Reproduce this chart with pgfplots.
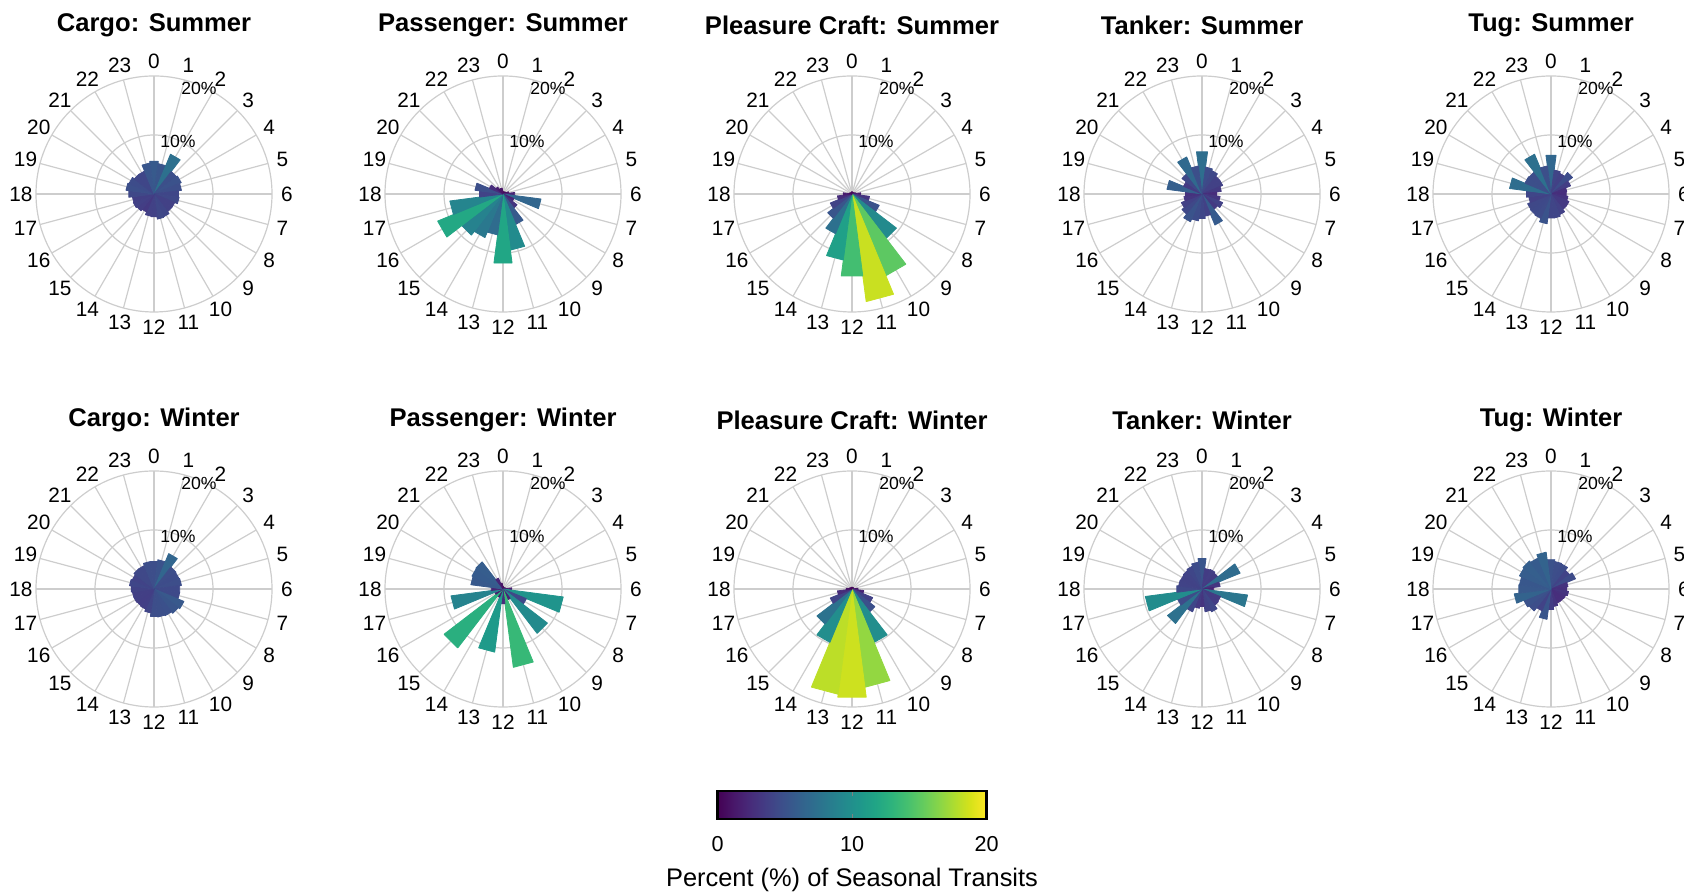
\documentclass[border=0pt]{standalone}
\usepackage{pgfplots}
\usepackage{pgfplotstable}
\pgfplotsset{compat=1.18}
\usepackage{fontspec}
\setmainfont{Liberation Sans}
\definecolor{gridc}{RGB}{205,205,205}

% Percent of seasonal transits by hour of day (0..23)
\pgfplotstableread{
h CargoS PassS PleasS TankS TugS CargoW PassW PleasW TankW TugW
0  5.6  0.5  0.4  7.2  6.6  4.7  0.5  0.3  5.2  5.0
1  5.2  0.3  0.3  4.6  4.1  5.0  0.3  0.3  3.5  4.7
2  7.3  0.3  0.3  4.3  3.8  6.5  0.3  0.3  3.6  4.6
3  4.8  0.5  0.3  3.8  4.6  4.7  0.3  0.3  3.4  4.0
4  5.0  0.5  0.4  3.8  3.6  4.6  0.3  0.3  7.0  4.5
5  4.7  1.0  0.6  3.3  2.7  4.7  0.5  0.3  3.1  2.9
6  4.2  2.0  1.5  2.5  2.6  4.4  1.5  1.0  2.0  2.7
7  4.3  6.5  3.0  3.1  2.9  4.4  10.3 2.0  7.8  3.0
8  3.8  2.0  5.0  3.8  3.3  5.5  4.3  3.8  3.4  2.7
9  3.8  3.0  9.5  3.3  3.3  5.2  9.5  4.9  3.5  2.6
10 4.2  5.6  15.0 5.7  3.8  4.9  2.0  9.8  4.2  2.6
11 4.3  9.6  18.4 3.8  4.1  4.8  13.4 16.8 3.9  3.0
12 3.9  11.8 14.0 4.2  4.1  4.7  2.5  18.5 3.0  3.5
13 3.8  7.0  11.3 4.6  5.1  4.1  10.8 18.0 3.3  5.2
14 3.3  8.0  7.3  5.1  4.5  3.7  1.5  9.8  4.2  4.0
15 3.6  8.8  5.2  4.3  4.4  3.6  12.6 7.5  7.4  4.7
16 3.8  12.0 4.0  3.8  4.3  3.7  1.5  4.0  4.5  5.0
17 3.7  9.1  2.5  3.1  3.8  3.7  8.9  2.5  9.7  6.3
18 4.3  4.0  1.5  2.8  4.2  3.9  2.0  1.0  4.3  5.5
19 4.8  4.8  0.5  6.0  7.1  4.2  5.5  0.5  4.0  5.4
20 4.6  2.5  0.3  3.4  4.8  4.0  5.7  0.3  3.9  5.8
21 4.2  1.5  0.3  4.3  4.7  4.3  5.8  0.3  4.0  6.0
22 4.2  1.0  0.3  6.8  7.3  4.3  2.0  0.3  4.2  5.7
23 5.3  1.0  0.3  4.8  4.8  4.7  1.0  0.3  4.6  6.3
}\rosedata

% one wedge (15 degrees wide, centred on the hour, clockwise from the top) per row
\newcommand\rosewedges[1]{%
  \gdef\rosecoords{}%
  \foreach \hr in {0,...,23}{%
    \pgfplotstablegetelem{\hr}{#1}\of\rosedata
    \pgfmathsetmacro\xa{\pgfplotsretval*cos(97.5-15*\hr)}%
    \pgfmathsetmacro\ya{\pgfplotsretval*sin(97.5-15*\hr)}%
    \pgfmathsetmacro\xb{\pgfplotsretval*cos(82.5-15*\hr)}%
    \pgfmathsetmacro\yb{\pgfplotsretval*sin(82.5-15*\hr)}%
    \xdef\rosecoords{\rosecoords (0,0) [\pgfplotsretval] (\xa,\ya) [\pgfplotsretval] (\xb,\yb) [\pgfplotsretval]}%
  }%
  \edef\rosetemp{\noexpand\addplot[patch, patch type=triangle, shader=flat, point meta=explicit] coordinates {\rosecoords};}%
  \rosetemp
}

\newcommand\rosegrid[2]{%
  \begin{scope}[shift={(#1pt,#2pt)}]
    \draw[gridc, line width=0.6pt] (0,0) circle[radius=29.5pt];
    \draw[gridc, line width=0.6pt] (0,0) circle[radius=59pt];
    \foreach \k in {0,...,23}{\draw[gridc, line width=0.6pt] (0,0) -- ({90-15*\k}:59pt);}
  \end{scope}}

\newcommand\roselabels[3]{%
  \begin{scope}[shift={(#1pt,#2pt)}]
    \foreach \k in {0,...,23}{\node[font=\fontsize{10.4}{12}\selectfont, inner sep=0pt] at ({90-15*\k}:66.5pt) {\k};}
    \node[font=\fontsize{8.8}{10}\selectfont, inner sep=0pt] at (12pt,26.3pt) {10\%};
    \node[font=\fontsize{8.8}{10}\selectfont, inner sep=0pt] at (22.5pt,53pt) {20\%};
    \node[font=\bfseries\fontsize{12.8}{14}\selectfont, inner sep=0pt] at (0pt,84.5pt) {#3};
  \end{scope}}

\pgfplotsset{rosax/.style={scale only axis, width=118pt, height=118pt,
  xmin=-20, xmax=20, ymin=-20, ymax=20, hide axis, clip=false,
  colormap/viridis, point meta min=0, point meta max=20, anchor=center}}

\begin{document}
\begin{tikzpicture}
\useasboundingbox (0pt,0pt) rectangle (842pt,446pt);
\rosegrid{77}{349}\rosegrid{251.5}{349}\rosegrid{426}{349}\rosegrid{601}{349}\rosegrid{775.5}{349}
\rosegrid{77}{151.5}\rosegrid{251.5}{151.5}\rosegrid{426}{151.5}\rosegrid{601}{151.5}\rosegrid{775.5}{151.5}

\begin{axis}[rosax, at={(77pt,349pt)}] \rosewedges{CargoS} \end{axis}
\begin{axis}[rosax, at={(251.5pt,349pt)}] \rosewedges{PassS} \end{axis}
\begin{axis}[rosax, at={(426pt,349pt)}] \rosewedges{PleasS} \end{axis}
\begin{axis}[rosax, at={(601pt,349pt)}] \rosewedges{TankS} \end{axis}
\begin{axis}[rosax, at={(775.5pt,349pt)}] \rosewedges{TugS} \end{axis}
\begin{axis}[rosax, at={(77pt,151.5pt)}] \rosewedges{CargoW} \end{axis}
\begin{axis}[rosax, at={(251.5pt,151.5pt)}] \rosewedges{PassW} \end{axis}
\begin{axis}[rosax, at={(426pt,151.5pt)}, colorbar horizontal,
  colorbar style={at={(0.5,-0.356)}, anchor=north, scale only axis,
    width=134.5pt, height=14pt, xtick={0,10,20},
    /pgf/number format/assume math mode=true,
    xticklabel style={font=\fontsize{10.8}{12}\selectfont, yshift=-5pt},
    axis line style={line width=1.2pt, black}, major tick length=2.5pt}]
  \rosewedges{PleasW} \end{axis}
\begin{axis}[rosax, at={(601pt,151.5pt)}] \rosewedges{TankW} \end{axis}
\begin{axis}[rosax, at={(775.5pt,151.5pt)}] \rosewedges{TugW} \end{axis}

\roselabels{77}{349}{Cargo: Summer}
\roselabels{251.5}{349}{Passenger: Summer}
\roselabels{426}{349}{Pleasure Craft: Summer}
\roselabels{601}{349}{Tanker: Summer}
\roselabels{775.5}{349}{Tug: Summer}
\roselabels{77}{151.5}{Cargo: Winter}
\roselabels{251.5}{151.5}{Passenger: Winter}
\roselabels{426}{151.5}{Pleasure Craft: Winter}
\roselabels{601}{151.5}{Tanker: Winter}
\roselabels{775.5}{151.5}{Tug: Winter}

\node[font=\fontsize{12.7}{14}\selectfont, inner sep=0pt] at (426pt,6pt) {Percent (\%) of Seasonal Transits};
\end{tikzpicture}
\end{document}
